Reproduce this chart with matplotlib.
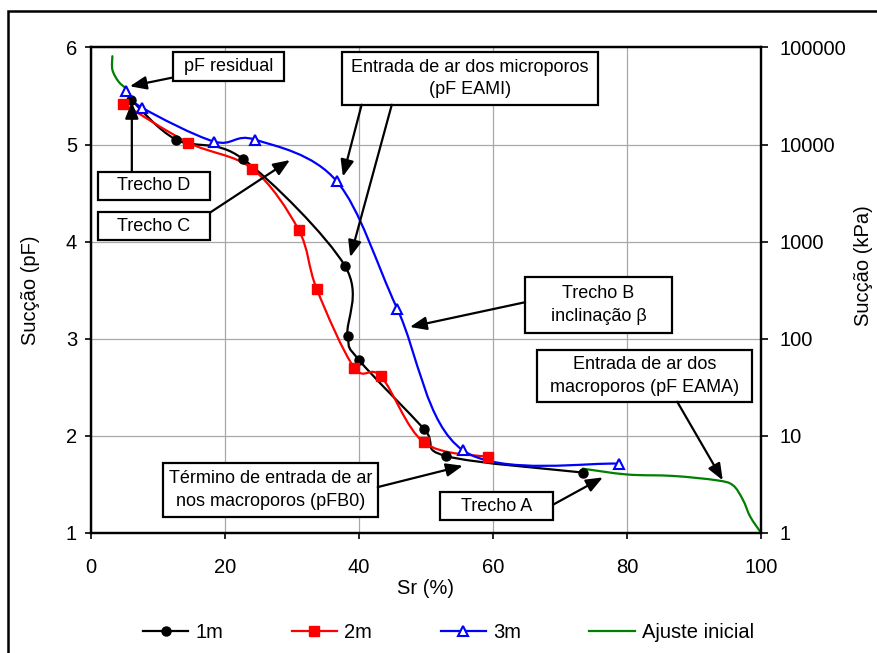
import numpy as np
import matplotlib
matplotlib.use('Agg')
import matplotlib.pyplot as plt
from matplotlib.path import Path
from matplotlib.patches import PathPatch, Rectangle
from matplotlib.lines import Line2D

plt.rcParams['font.family'] = ['Liberation Sans', 'DejaVu Sans']

# Retention curves: degree of saturation Sr (%) vs suction pF
sr_1m = [6.0, 12.7, 22.7, 37.9, 38.3, 40.0, 49.7, 53.0, 73.4]
pf_1m = [5.46, 5.05, 4.85, 3.75, 3.03, 2.78, 2.07, 1.79, 1.62]

sr_2m = [4.8, 14.5, 24.1, 31.0, 33.7, 39.3, 43.3, 49.7, 59.3]
pf_2m = [5.42, 5.02, 4.75, 4.12, 3.51, 2.70, 2.61, 1.93, 1.78]

sr_3m = [5.2, 7.6, 18.4, 24.5, 36.7, 45.7, 55.5, 78.8]
pf_3m = [5.55, 5.38, 5.03, 5.05, 4.62, 3.31, 1.85, 1.71]

# initial fit, only the visible dry and wet ends
sr_fit_dry = [3.2, 3.2, 4.1, 5.2]
pf_fit_dry = [5.91, 5.77, 5.65, 5.58]
sr_fit_wet = [73.4, 80.0, 86.9, 93.4, 95.8, 97.3, 98.4, 100.0]
pf_fit_wet = [1.66, 1.60, 1.585, 1.54, 1.49, 1.34, 1.165, 1.0]

kpa_ticks = [1, 10, 100, 1000, 10000, 100000]
sr_ticks = [0, 20, 40, 60, 80, 100]
pf_ticks = [1, 2, 3, 4, 5, 6]

BLACK = '#000000'
RED = '#ff0000'
BLUE = '#0000ff'
GREEN = '#008000'
GRID = '#a8a8a8'


def smooth_path(x, y):
    """Excel-like smoothed line: Catmull-Rom segments as cubic Beziers."""
    pts = np.column_stack([x, y]).astype(float)
    n = len(pts)
    verts = [pts[0]]
    codes = [Path.MOVETO]
    for i in range(n - 1):
        p0 = pts[max(i - 1, 0)]
        p1 = pts[i]
        p2 = pts[i + 1]
        p3 = pts[min(i + 2, n - 1)]
        c1 = p1 + (p2 - p0) / 6.0
        c2 = p2 - (p3 - p1) / 6.0
        verts += [c1, c2, p2]
        codes += [Path.CURVE4] * 3
    return Path(verts, codes)


def draw_curve(ax, x, y, color, z):
    patch = PathPatch(smooth_path(x, y), fill=False, edgecolor=color,
                      linewidth=1.6, zorder=z, capstyle='round',
                      joinstyle='round')
    ax.add_patch(patch)


fig = plt.figure(figsize=(8.78, 6.53), dpi=100, facecolor='white')
ax = fig.add_axes([0.1036, 0.1842, 0.7631, 0.7431])

# fitted curve sits underneath the measured ones
draw_curve(ax, sr_fit_dry, pf_fit_dry, GREEN, 2)
draw_curve(ax, sr_fit_wet, pf_fit_wet, GREEN, 2)
draw_curve(ax, sr_1m, pf_1m, BLACK, 3)
draw_curve(ax, sr_2m, pf_2m, RED, 3)
draw_curve(ax, sr_3m, pf_3m, BLUE, 3)

ax.plot(sr_1m, pf_1m, linestyle='none', marker='o', markersize=6.5,
        color=BLACK, zorder=4)
ax.plot(sr_2m, pf_2m, linestyle='none', marker='s', markersize=7,
        color=RED, zorder=4)
ax.plot(sr_3m, pf_3m, linestyle='none', marker='^', markersize=7.5,
        markerfacecolor='white', markeredgecolor=BLUE, markeredgewidth=1.5,
        zorder=4)

ax.set_xlim(0, 100)
ax.set_ylim(1, 6)
ax.set_xticks(sr_ticks)
ax.set_yticks(pf_ticks)
ax.grid(True, color=GRID, linewidth=0.9)
ax.set_axisbelow(True)
ax.tick_params(axis='x', direction='out', length=4, width=1.2, pad=14,
               labelsize=14.5)
ax.tick_params(axis='y', direction='out', length=4.5, width=1.2, pad=5.5,
               labelsize=14.5)
for spine in ax.spines.values():
    spine.set_linewidth(1.6)

ax.set_xlabel('Sr (%)', fontsize=14.5)
ax.xaxis.set_label_coords(0.5, -0.095)

# secondary axis: suction in kPa (pF 1 -> 1 kPa)
ax2 = ax.twinx()
ax2.set_yscale('log')
ax2.set_ylim(1, 100000)
ax2.set_yticks(kpa_ticks)
ax2.set_yticklabels([str(v) for v in kpa_ticks])
ax2.yaxis.set_minor_locator(matplotlib.ticker.NullLocator())
ax2.tick_params(axis='y', direction='out', length=5, width=1.2, pad=8,
                labelsize=14.5)
for spine in ax2.spines.values():
    spine.set_linewidth(1.6)

fig.text(0.0353, 0.556, 'Sucção (pF)', rotation=90, ha='center',
         va='center', fontsize=14.5)
fig.text(0.984, 0.593, 'Sucção (kPa)', rotation=90, ha='center',
         va='center', fontsize=14.5)

# annotation boxes: (x0, y0, x1, y1, text)
boxes = [
    (12.2, 5.65, 28.8, 5.95, 'pF residual'),
    (1.0, 4.43, 17.8, 4.72, 'Trecho D'),
    (1.0, 4.02, 17.8, 4.30, 'Trecho C'),
    (37.5, 5.41, 75.7, 5.95, 'Entrada de ar dos microporos\n(pF EAMI)'),
    (64.8, 3.06, 86.7, 3.63, 'Trecho B\ninclinação β'),
    (66.6, 2.35, 98.7, 2.88, 'Entrada de ar dos\nmacroporos (pF EAMA)'),
    (10.8, 1.16, 42.8, 1.72, 'Término de entrada de ar\nnos macroporos (pFB0)'),
    (52.1, 1.13, 69.0, 1.42, 'Trecho A'),
]
for x0, y0, x1, y1, label in boxes:
    ax.add_patch(Rectangle((x0, y0), x1 - x0, y1 - y0, facecolor='white',
                           edgecolor=BLACK, linewidth=1.6, zorder=6))
    ax.text((x0 + x1) / 2, (y0 + y1) / 2, label, ha='center', va='center',
            multialignment='center', fontsize=13, linespacing=1.45, zorder=7)

# arrows: (tail, tip)
arrows = [
    ((12.2, 5.69), (5.8, 5.60)),
    ((6.1, 4.72), (6.1, 5.44)),
    ((17.8, 4.30), (29.7, 4.84)),
    ((40.4, 5.41), (37.6, 4.67)),
    ((44.9, 5.41), (38.7, 3.84)),
    ((64.8, 3.375), (47.6, 3.12)),
    ((87.5, 2.35), (94.3, 1.54)),
    ((42.8, 1.47), (55.5, 1.69)),
    ((69.0, 1.29), (76.4, 1.57)),
]
for tail, tip in arrows:
    ax.annotate('', xy=tip, xytext=tail, annotation_clip=False, zorder=7,
                arrowprops=dict(arrowstyle='-|>,head_length=0.5,head_width=0.2',
                                mutation_scale=20, color=BLACK, linewidth=1.6,
                                shrinkA=0, shrinkB=0))

handles = [
    Line2D([], [], color=BLACK, linewidth=1.6, marker='o', markersize=6.5),
    Line2D([], [], color=RED, linewidth=1.6, marker='s', markersize=7),
    Line2D([], [], color=BLUE, linewidth=1.6, marker='^', markersize=7,
           markerfacecolor='white', markeredgewidth=1.5),
    Line2D([], [], color=GREEN, linewidth=1.6),
]
fig.legend(handles, ['1m', '2m', '3m', 'Ajuste inicial'], ncol=4,
           loc='center left', bbox_to_anchor=(0.163, 0.032), frameon=False,
           fontsize=14.5, handlelength=2.25, handletextpad=0.35,
           columnspacing=3.4, borderpad=0, borderaxespad=0)

# chart area frame
fig.add_artist(Rectangle((8 / 878, -0.1), 1.2, 1 - 11 / 653 + 0.1,
                         transform=fig.transFigure, fill=False,
                         edgecolor=BLACK, linewidth=1.8))

fig.savefig('out.png', dpi=100)
